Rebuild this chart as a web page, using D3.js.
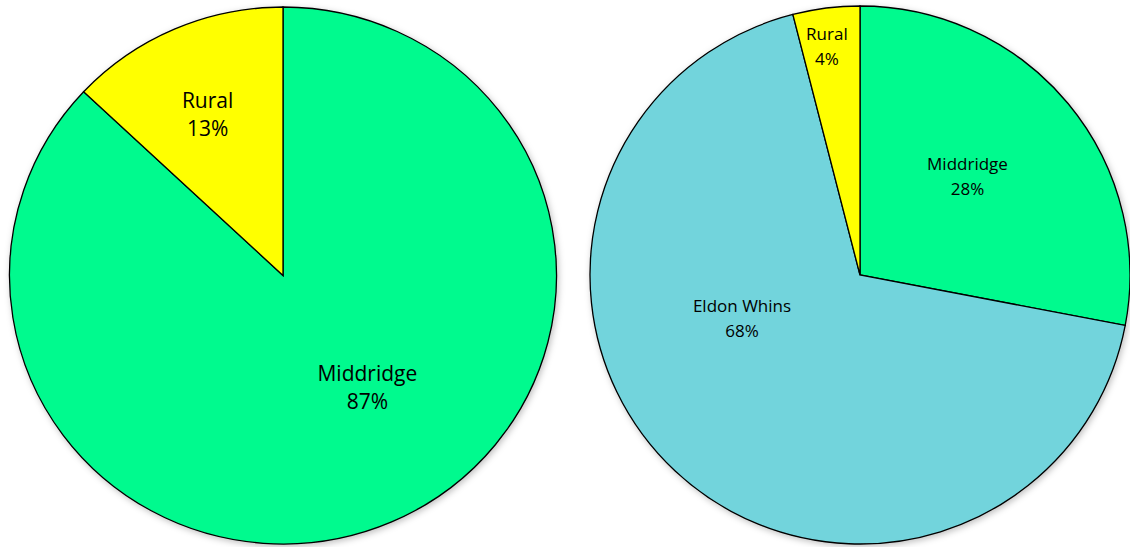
<!DOCTYPE html>
<html>
<head>
<meta charset="utf-8">
<script src="https://cdn.jsdelivr.net/npm/d3@7"></script>
<style>
  html, body { margin: 0; padding: 0; background: #ffffff; }
  svg { display: block; }
</style>
</head>
<body>
<svg id="chart" width="1130" height="547"></svg>
<script>
// ---- Data ----
const leftCategories = ["Middridge", "Rural"];
const leftValues = [87, 13];
const rightCategories = ["Middridge", "Eldon Whins", "Rural"];
const rightValues = [28, 68, 4];

// ---- Styles / layout ----
const colorScale = d3.scaleOrdinal()
  .domain(["Middridge", "Rural", "Eldon Whins"])
  .range(["#00FA8E", "#FFFF00", "#72D4DC"]);

const pies = [
  { categories: leftCategories, values: leftValues,
    cx: 283, cy: 275.5, rx: 273.5, ry: 268.5, fontSize: 21, lineHeight: 28,
    labelAngle: [143.6, -24.7], labelRadius: [0.52, 0.66] },
  { categories: rightCategories, values: rightValues,
    cx: 860, cy: 275, rx: 270, ry: 269, fontSize: 17, lineHeight: 25,
    labelAngle: [47.5, 249.7, -8.2], labelRadius: [0.54, 0.466, 0.86] }
];

const svg = d3.select("#chart");
const defs = svg.append("defs");
const f = defs.append("filter").attr("id", "shadow")
  .attr("x", "-10%").attr("y", "-10%").attr("width", "120%").attr("height", "120%");
f.append("feDropShadow").attr("dx", 1.5).attr("dy", 2).attr("stdDeviation", 3)
  .attr("flood-color", "#000").attr("flood-opacity", 0.25);

pies.forEach(p => {
  const rows = p.categories.map((c, i) => ({ name: c, value: p.values[i] }));
  const total = d3.sum(rows, d => d.value);
  const pie = d3.pie().sort(null).value(d => d.value).startAngle(0).endAngle(2 * Math.PI);
  const arcs = pie(rows);
  const r = p.rx;
  const arc = d3.arc().innerRadius(0).outerRadius(r);

  const g = svg.append("g")
    .attr("transform", `translate(${p.cx},${p.cy})`);
  const shapes = g.append("g")
    .attr("filter", "url(#shadow)")
    .attr("transform", `scale(1, ${p.ry / p.rx})`);
  shapes.selectAll("path")
    .data(arcs)
    .join("path")
    .attr("d", arc)
    .attr("fill", d => colorScale(d.data.name))
    .attr("stroke", "#000")
    .attr("stroke-width", 1.3)
    .attr("stroke-linejoin", "miter");

  const fmt = d3.format(".0%");
  const cap = 0.714 * p.fontSize;
  arcs.forEach((a, i) => {
    const ang = p.labelAngle[i] * Math.PI / 180;
    const rad = p.labelRadius[i];
    const x = Math.sin(ang) * r * rad;
    const y = -Math.cos(ang) * p.ry * rad;
    const b1 = y - (p.lineHeight - cap) / 2;
    const t = g.append("text")
      .attr("text-anchor", "middle")
      .attr("font-family", "'Open Sans', 'Noto Sans', sans-serif")
      .attr("font-size", p.fontSize)
      .attr("fill", "#000");
    t.append("tspan").attr("x", x).attr("y", b1).text(a.data.name);
    t.append("tspan").attr("x", x).attr("y", b1 + p.lineHeight).text(fmt(a.data.value / total));
  });
});
</script>
</body>
</html>
